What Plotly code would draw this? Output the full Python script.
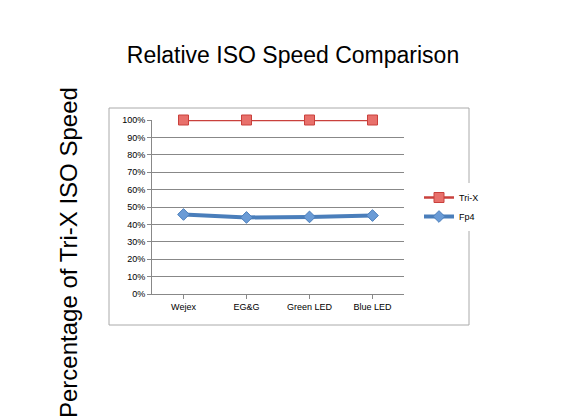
import plotly.graph_objects as go

categories = ["Wejex", "EG&G", "Green LED", "Blue LED"]
tri_x = [100, 100, 100, 100]
fp4 = [45.7, 44.0, 44.3, 45.1]
y_ticks = list(range(0, 101, 10))
y_labels = [f"{v}%" for v in y_ticks]

W, H = 563, 419
L, R, T, B = 144, 396, 112, 286

fig = go.Figure()
fig.add_trace(go.Scatter(x=categories, y=tri_x, name="Tri-X", mode="lines+markers",
                         cliponaxis=False,
                         line=dict(color="#c9403c", width=2.5),
                         marker=dict(symbol="square", size=10, color="#e8706b",
                                     line=dict(color="#c9403c", width=1))))
fig.add_trace(go.Scatter(x=categories, y=fp4, name="Fp4", mode="lines+markers",
                         cliponaxis=False,
                         line=dict(color="#4a7ebb", width=4),
                         marker=dict(symbol="diamond", size=9, color="#6a9bd6",
                                     line=dict(color="#4a7ebb", width=1))))

fig.update_layout(
    width=W, height=H,
    margin=dict(l=L, r=W - R, t=T, b=H - B, autoexpand=False),
    paper_bgcolor="white", plot_bgcolor="white",
    font=dict(family="Liberation Sans, Arial", color="black"),
    title=dict(text="Relative ISO Speed Comparison", x=285 / W, xanchor="center",
               y=1 - 47 / H, yanchor="middle", font=dict(size=23)),
    showlegend=True,
    legend=dict(x=(411 - L) / (R - L), y=0.5, xanchor="left", yanchor="middle",
                font=dict(size=9), tracegroupgap=0, itemwidth=30),
    xaxis=dict(showgrid=False, showline=True, linecolor="#888", ticks="outside",
               tickcolor="#888", ticklen=4, tickfont=dict(size=9), range=[-0.5, 3.5]),
    yaxis=dict(range=[0, 100], tickvals=y_ticks, ticktext=y_labels,
               gridcolor="#888", gridwidth=1, showline=True, linecolor="#888",
               ticks="outside", tickcolor="#888", ticklen=4, tickfont=dict(size=9),
               zeroline=False),
    shapes=[dict(type="rect", xref="paper", yref="paper",
                 x0=(101 - L) / (R - L), x1=(461 - L) / (R - L),
                 y0=(B - 317) / (B - T), y1=(B - 100) / (B - T),
                 line=dict(color="#aaa", width=1))],
    annotations=[dict(text="Percentage of Tri-X ISO Speed", xref="paper", yref="paper",
                      x=(60 - L) / (R - L), y=(B - 245) / (B - T), textangle=-90,
                      showarrow=False, font=dict(size=24), xanchor="center", yanchor="middle")],
)

fig.write_html("out.html")
